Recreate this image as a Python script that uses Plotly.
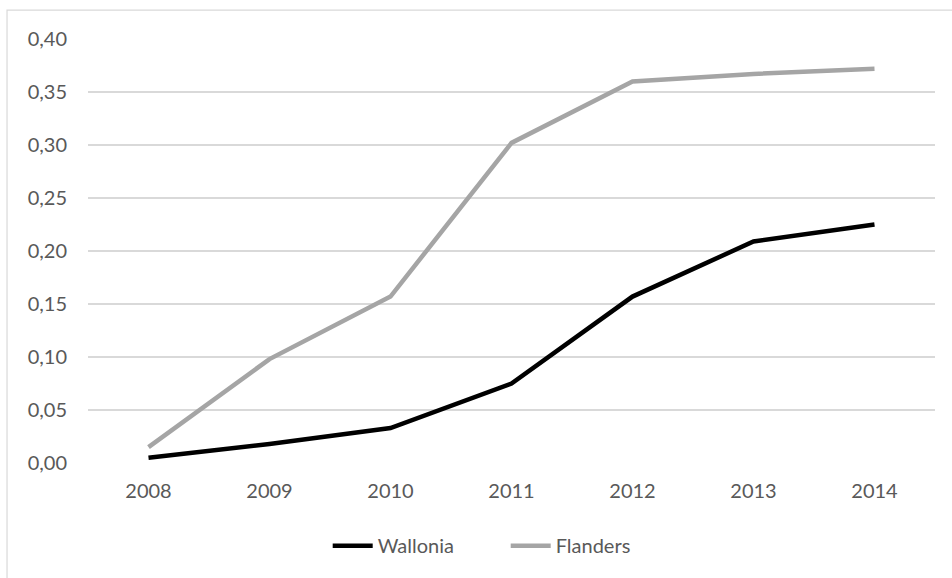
import plotly.graph_objects as go

years = ["2008", "2009", "2010", "2011", "2012", "2013", "2014"]
wallonia = [0.005, 0.018, 0.033, 0.075, 0.157, 0.209, 0.225]
flanders = [0.015, 0.098, 0.157, 0.302, 0.360, 0.367, 0.372]

font_family = "Lato, 'Open Sans', sans-serif"
text_color = "#595959"
grid_color = "#d9d9d9"

fig = go.Figure()
fig.add_trace(go.Scatter(
    x=years, y=wallonia, name="Wallonia", mode="lines",
    line=dict(color="#000000", width=4.5),
))
fig.add_trace(go.Scatter(
    x=years, y=flanders, name="Flanders", mode="lines",
    line=dict(color="#a5a5a5", width=4.5),
))

# light outer frame around the chart area
fig.add_shape(
    type="rect", xref="paper", yref="paper",
    x0=-0.0956, x1=1.05, y0=-0.35, y1=1.068,
    line=dict(color=grid_color, width=1.2), fillcolor="rgba(0,0,0,0)",
    layer="below",
)

fig.update_layout(
    width=952, height=578,
    margin=dict(l=88, r=17, t=39, b=115),
    paper_bgcolor="white", plot_bgcolor="white",
    separators=", ",
    font=dict(family=font_family, size=20, color=text_color),
    showlegend=True,
    legend=dict(
        orientation="h", x=0.283, xanchor="left", y=-0.195, yanchor="middle",
        font=dict(family=font_family, size=20, color=text_color),
        itemwidth=40, entrywidth=123, entrywidthmode="pixels",
    ),
    xaxis=dict(
        type="category", range=[-0.5, 6.5],
        showgrid=False, showline=False, zeroline=False,
        ticks="", ticklabelstandoff=14,
    ),
    yaxis=dict(
        range=[0, 0.40], dtick=0.05, tickformat=".2f",
        showgrid=True, gridcolor=grid_color, gridwidth=1.5,
        zeroline=False, showline=False, ticks="", ticklabelstandoff=20,
    ),
)

fig.write_html("out.html")
